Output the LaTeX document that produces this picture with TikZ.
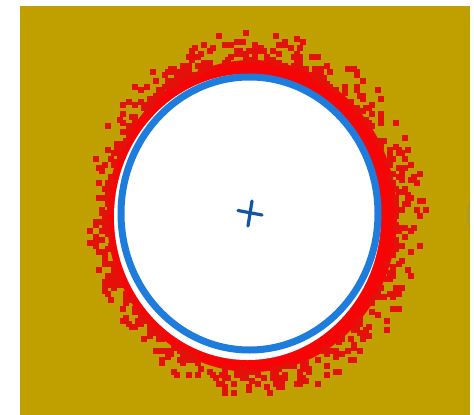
\documentclass[tikz,border=0pt]{standalone}
\definecolor{bgyellow}{RGB}{192,160,0}
\definecolor{ringred}{RGB}{245,5,5}
\definecolor{dotred}{RGB}{228,16,10}
\definecolor{ringblue}{RGB}{30,125,220}
\definecolor{crossblue}{RGB}{20,85,160}
\tikzset{
  pixsq/.style={fill=dotred},
  bluering/.style={draw=ringblue, line width=7pt, fill=white},
  crossline/.style={draw=crossblue, line width=3.2pt, line cap=round}
}
\begin{document}
\begin{tikzpicture}[x=1pt,y=-1pt]
\useasboundingbox (0,0) rectangle (474,415);
\fill[white] (0,0) rectangle (474,415);
\fill[bgyellow] (20,6) rectangle (470,415);
\begin{scope}
\clip (20,6) rectangle (470,415);
% faint grey shape at right edge
\fill[black!45, opacity=0.35] (476,215) ellipse [x radius=9, y radius=20];
% solid red band
\fill[ringred] (252,216) ellipse [x radius=145, y radius=156];
% scattered red squares
\pgfmathsetseed{11}
\foreach \i in {1,...,560}{
  \pgfmathsetmacro{\a}{360*rnd}
  \pgfmathsetmacro{\s}{0.18+0.03*cos(\a-30)}
  \pgfmathsetmacro{\r}{0.99+\s*rnd^1.6}
  \pgfmathsetmacro{\px}{3*round((252+145*\r*cos(\a))/3)}
  \pgfmathsetmacro{\py}{3*round((216-156*\r*sin(\a))/3)}
  \fill[pixsq] (\px-3,\py-3) rectangle ++(6,6);
}
% white gap inside red band
\fill[white] (247.5,217) ellipse [x radius=133.5, y radius=143];
\end{scope}
% blue ring
\path[bluering] (249.5,213.5) ellipse [x radius=128.5, y radius=136.5];
% center cross
\coordinate (h1) at (238,210.5);
\coordinate (h2) at (262,215);
\coordinate (v1) at (252,201);
\coordinate (v2) at (248,226);
\draw[crossline] (h1) -- (h2);
\draw[crossline] (v1) -- (v2);
\end{tikzpicture}
\end{document}
